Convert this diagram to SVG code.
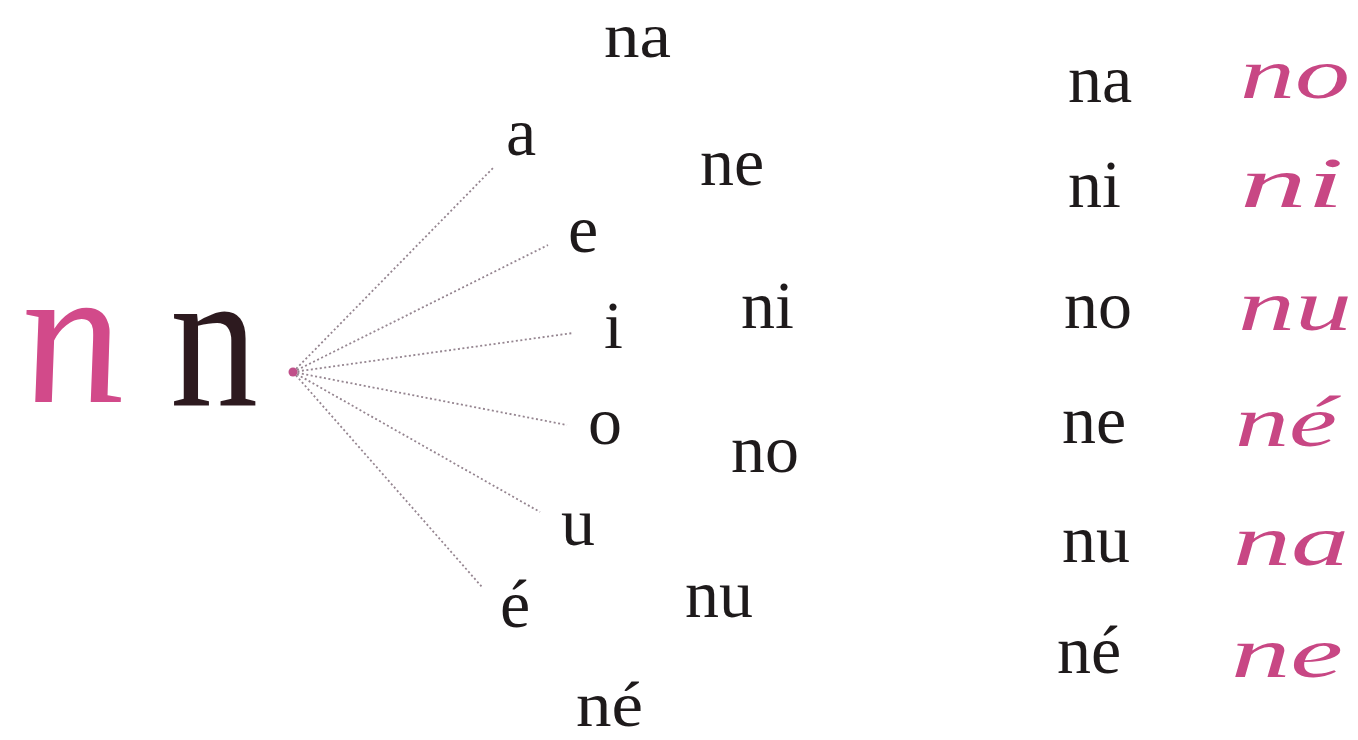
<svg xmlns="http://www.w3.org/2000/svg" width="1358" height="740" viewBox="0 0 1358 740">
<style>
.t{font-family:"Liberation Serif","Times New Roman",serif;font-size:68px;fill:#1e1a1b}
.s{font-size:64px}
.c{font-family:"Liberation Serif","Times New Roman",serif;font-style:italic;font-size:72px;fill:#c84784}
.big{font-family:"Liberation Serif","Times New Roman",serif;font-size:200px;fill:#2d1a1f}
.bigc{font-family:"Liberation Serif","Times New Roman",serif;font-style:italic;font-size:200px;fill:#d24a8a}
.ln{stroke:#958590;stroke-width:1.8;stroke-dasharray:2 2.5;fill:none}
</style>
<rect width="1358" height="740" fill="#ffffff"/>
<g id="connectors">
<line class="ln" x1="293" y1="372" x2="493" y2="168"/>
<line class="ln" x1="293" y1="372" x2="548" y2="245"/>
<line class="ln" x1="293" y1="372" x2="573" y2="333"/>
<line class="ln" x1="293" y1="372" x2="567" y2="425"/>
<line class="ln" x1="293" y1="372" x2="540" y2="512"/>
<line class="ln" x1="293" y1="372" x2="482" y2="587"/>
</g>
<g id="hub"><circle cx="293" cy="372" r="4.5" fill="#c0508a"/></g>
<g id="big-cursive-n"><text class="bigc" transform="translate(28,402) skewX(8) scale(1.02,1)">n</text></g>
<g id="big-n"><text class="big" transform="translate(170,406) scale(0.88,1)">n</text></g>
<g id="vowels">
<text class="t" x="506" y="155">a</text>
<text class="t" x="568" y="252">e</text>
<text class="t" x="604" y="348">i</text>
<text class="t" x="588" y="444">o</text>
<text class="t" x="561" y="545">u</text>
<text class="t" x="500" y="627">é</text>
</g>
<g id="syllables">
<text class="t s" x="604" y="57" textLength="67" lengthAdjust="spacingAndGlyphs">na</text>
<text class="t" x="700" y="185">ne</text>
<text class="t" x="741" y="328">ni</text>
<text class="t" x="731" y="472">no</text>
<text class="t" x="685" y="617">nu</text>
<text class="t s" x="576" y="726" textLength="67" lengthAdjust="spacingAndGlyphs">né</text>
</g>
<g id="print-column">
<text class="t" x="1068" y="102">na</text>
<text class="t" x="1068" y="207">ni</text>
<text class="t" x="1064" y="328">no</text>
<text class="t" x="1062" y="443">ne</text>
<text class="t" x="1062" y="562">nu</text>
<text class="t" x="1057" y="673">né</text>
</g>
<g id="cursive-column">
<text class="c" x="1240" y="98" textLength="110" lengthAdjust="spacingAndGlyphs">no</text>
<text class="c" x="1240" y="207" textLength="104" lengthAdjust="spacingAndGlyphs">ni</text>
<text class="c" x="1238" y="330" textLength="114" lengthAdjust="spacingAndGlyphs">nu</text>
<text class="c" x="1235" y="446" textLength="102" lengthAdjust="spacingAndGlyphs">né</text>
<text class="c" x="1233" y="565" textLength="116" lengthAdjust="spacingAndGlyphs">na</text>
<text class="c" x="1231" y="677" textLength="112" lengthAdjust="spacingAndGlyphs">ne</text>
</g>
</svg>
